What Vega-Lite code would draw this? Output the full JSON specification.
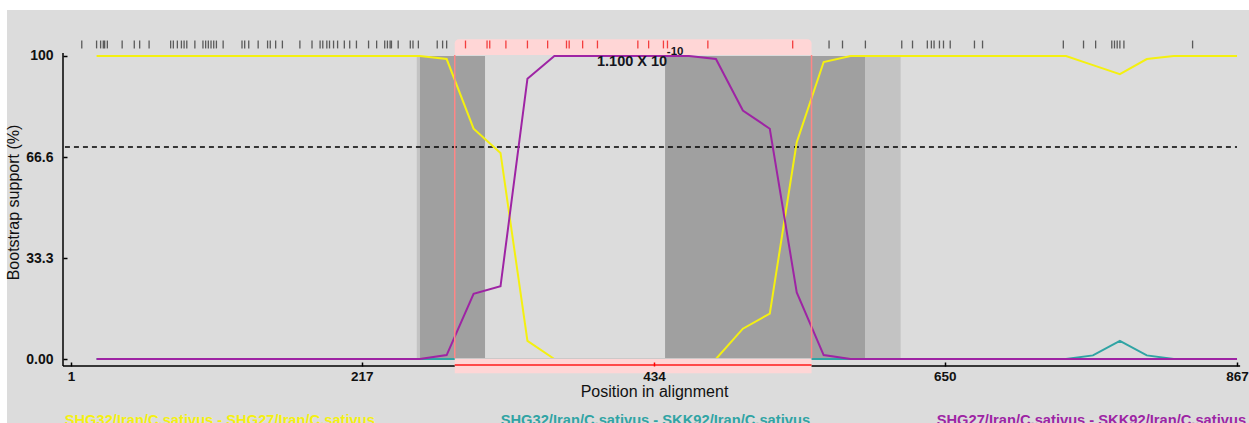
{
  "$schema": "https://vega.github.io/schema/vega-lite/v6.json",
  "width": 1242,
  "height": 413,
  "autosize": {"type": "none"},
  "padding": {"left": 7, "top": 10, "right": 0, "bottom": 0},
  "background": "#ffffff",
  "config": {"view": {"fill": "#dcdcdc", "stroke": null}, "font": "Liberation Sans"},
  "datasets": {
    "bootscan": [
      {"pos": 20, "y": 100, "t": 0, "p": 0},
      {"pos": 40, "y": 100, "t": 0, "p": 0},
      {"pos": 60, "y": 100, "t": 0, "p": 0},
      {"pos": 80, "y": 100, "t": 0, "p": 0},
      {"pos": 100, "y": 100, "t": 0, "p": 0},
      {"pos": 120, "y": 100, "t": 0, "p": 0},
      {"pos": 140, "y": 100, "t": 0, "p": 0},
      {"pos": 160, "y": 100, "t": 0, "p": 0},
      {"pos": 180, "y": 100, "t": 0, "p": 0},
      {"pos": 200, "y": 100, "t": 0, "p": 0},
      {"pos": 220, "y": 100, "t": 0, "p": 0},
      {"pos": 240, "y": 100, "t": 0, "p": 0},
      {"pos": 260, "y": 100, "t": 0, "p": 0},
      {"pos": 280, "y": 99, "t": 0, "p": 1.3},
      {"pos": 300, "y": 76, "t": 0, "p": 21.5},
      {"pos": 320, "y": 68, "t": 0, "p": 24},
      {"pos": 340, "y": 6, "t": 0, "p": 92.5},
      {"pos": 360, "y": 0, "t": 0, "p": 100},
      {"pos": 380, "y": 0, "t": 0, "p": 100},
      {"pos": 400, "y": 0, "t": 0, "p": 100},
      {"pos": 420, "y": 0, "t": 0, "p": 100},
      {"pos": 440, "y": 0, "t": 0, "p": 100},
      {"pos": 460, "y": 0, "t": 0, "p": 100},
      {"pos": 480, "y": 0, "t": 0, "p": 99},
      {"pos": 500, "y": 10, "t": 0, "p": 82},
      {"pos": 520, "y": 15, "t": 0, "p": 76},
      {"pos": 540, "y": 71.5, "t": 0, "p": 22},
      {"pos": 560, "y": 98, "t": 0, "p": 1.3},
      {"pos": 580, "y": 100, "t": 0, "p": 0},
      {"pos": 600, "y": 100, "t": 0, "p": 0},
      {"pos": 620, "y": 100, "t": 0, "p": 0},
      {"pos": 640, "y": 100, "t": 0, "p": 0},
      {"pos": 660, "y": 100, "t": 0, "p": 0},
      {"pos": 680, "y": 100, "t": 0, "p": 0},
      {"pos": 700, "y": 100, "t": 0, "p": 0},
      {"pos": 720, "y": 100, "t": 0, "p": 0},
      {"pos": 740, "y": 100, "t": 0, "p": 0},
      {"pos": 760, "y": 97, "t": 1.2, "p": 0},
      {"pos": 780, "y": 94, "t": 6, "p": 0},
      {"pos": 800, "y": 99, "t": 1.2, "p": 0},
      {"pos": 820, "y": 100, "t": 0, "p": 0},
      {"pos": 840, "y": 100, "t": 0, "p": 0},
      {"pos": 860, "y": 100, "t": 0, "p": 0},
      {"pos": 867, "y": 100, "t": 0, "p": 0}
    ],
    "shading": [
      {"start": 257.8, "end": 260.2, "kind": "light"},
      {"start": 260.2, "end": 308.5, "kind": "dark"},
      {"start": 442.2, "end": 590.7, "kind": "dark"},
      {"start": 590.7, "end": 617.2, "kind": "light"}
    ],
    "region": [
      {"start": 286, "end": 551, "pvalue": "1.100 X 10", "exponent": "-10"}
    ],
    "sites": [
      {"pos": 9}, {"pos": 20}, {"pos": 23}, {"pos": 25}, {"pos": 26}, {"pos": 28}, {"pos": 39}, {"pos": 48}, {"pos": 52}, {"pos": 59},
      {"pos": 75}, {"pos": 77}, {"pos": 80}, {"pos": 83}, {"pos": 85}, {"pos": 87}, {"pos": 93}, {"pos": 99}, {"pos": 101}, {"pos": 103},
      {"pos": 105}, {"pos": 107}, {"pos": 109}, {"pos": 114}, {"pos": 128}, {"pos": 130}, {"pos": 133}, {"pos": 140}, {"pos": 147}, {"pos": 149},
      {"pos": 153}, {"pos": 158}, {"pos": 171}, {"pos": 180}, {"pos": 186}, {"pos": 188}, {"pos": 191}, {"pos": 193}, {"pos": 196}, {"pos": 199},
      {"pos": 204}, {"pos": 208}, {"pos": 213}, {"pos": 222}, {"pos": 228}, {"pos": 234}, {"pos": 236}, {"pos": 238}, {"pos": 239}, {"pos": 244},
      {"pos": 253}, {"pos": 255}, {"pos": 259}, {"pos": 273}, {"pos": 277}, {"pos": 280}, {"pos": 294}, {"pos": 310}, {"pos": 312}, {"pos": 324},
      {"pos": 340}, {"pos": 355}, {"pos": 369}, {"pos": 371}, {"pos": 381}, {"pos": 392}, {"pos": 422}, {"pos": 430}, {"pos": 441}, {"pos": 444},
      {"pos": 474}, {"pos": 537}, {"pos": 564}, {"pos": 574}, {"pos": 591}, {"pos": 618}, {"pos": 626}, {"pos": 637}, {"pos": 640}, {"pos": 642},
      {"pos": 646}, {"pos": 649}, {"pos": 654}, {"pos": 672}, {"pos": 678}, {"pos": 738}, {"pos": 753}, {"pos": 762}, {"pos": 774}, {"pos": 776},
      {"pos": 778}, {"pos": 780}, {"pos": 783}, {"pos": 834}
    ]
  },
  "layer": [
    {
      "data": {"name": "shading"},
      "mark": {"type": "rect"},
      "encoding": {
        "x": {"field": "start", "type": "quantitative", "scale": {"domain": [-46.53, 875.9], "nice": false, "zero": false},
          "axis": {"values": [1, 217, 434, 650, 867], "format": "d", "offset": -61, "domain": false, "grid": false, "ticks": true, "tickSize": 4, "tickWidth": 1.5,
            "tickColor": {"condition": {"test": "datum.value === 434", "value": "#ff0000"}, "value": "#000000"},
            "labelPadding": 3, "labelFontSize": 13.5, "labelFontWeight": "bold", "labelColor": "#111111", "labelFlush": false, "labelOverlap": false,
            "title": "Position in alignment", "titleFontSize": 16, "titleFontWeight": "normal", "titleColor": "#111111", "titleX": 647, "titleY": 34, "titleBaseline": "alphabetic", "zindex": 1}},
        "x2": {"field": "end"},
        "y": {"datum": 0, "type": "quantitative", "scale": {"domain": [-21.12, 115.18], "nice": false, "zero": false},
          "axis": {"values": [0, 33.3, 66.6, 100], "format": ".1f", "offset": -60, "domain": false, "grid": false, "ticks": true, "tickSize": 4, "tickWidth": 1.5, "tickColor": "#000000",
            "labelPadding": 10, "labelFontSize": 14, "labelFontWeight": "bold", "labelColor": "#111111", "labelOverlap": false, "labelFlush": false,
            "labelExpr": "datum.value === 0 ? '0.00' : (datum.value === 100 ? '100' : datum.label)",
            "title": "Bootstrap support (%)", "titleFontSize": 16, "titleFontWeight": "normal", "titleColor": "#111111", "titleX": -49, "titleY": 192, "titleAngle": 270, "titleAlign": "center", "titleBaseline": "alphabetic", "zindex": 1}},
        "y2": {"datum": 100},
        "fill": {"field": "kind", "type": "nominal", "scale": {"domain": ["light", "dark"], "range": ["#c3c3c3", "#a0a0a0"]}, "legend": null}
      }
    },
    {
      "data": {"name": "region"},
      "mark": {"type": "rule", "color": "#000000", "strokeWidth": 1.5, "strokeDash": [5, 4]},
      "encoding": {
        "x": {"datum": -3.5, "type": "quantitative", "scale": {"domain": [-46.53, 875.9], "nice": false, "zero": false}},
        "x2": {"datum": 867},
        "y": {"datum": 70, "type": "quantitative", "scale": {"domain": [-21.12, 115.18], "nice": false, "zero": false}}
      }
    },
    {
      "data": {"name": "bootscan"},
      "mark": {"type": "line", "strokeWidth": 2},
      "encoding": {
        "x": {"field": "pos", "type": "quantitative", "scale": {"domain": [-46.53, 875.9], "nice": false, "zero": false}},
        "y": {"field": "y", "type": "quantitative", "scale": {"domain": [-21.12, 115.18], "nice": false, "zero": false}},
        "color": {"datum": "SHG32/Iran/C.sativus - SHG27/Iran/C.sativus", "type": "nominal",
          "scale": {"domain": ["SHG32/Iran/C.sativus - SHG27/Iran/C.sativus", "SHG32/Iran/C.sativus - SKK92/Iran/C.sativus", "SHG27/Iran/C.sativus - SKK92/Iran/C.sativus"], "range": ["#f4f010", "#30a4a4", "#9e24a4"]},
          "legend": {"orient": "none", "legendX": 43, "legendY": 395.5, "direction": "horizontal", "title": null, "symbolSize": 0, "symbolOpacity": 0, "symbolStrokeWidth": 0, "labelOffset": 0, "columnPadding": 111, "labelFontSize": 14.7, "labelFontWeight": "bold", "labelLimit": 0, "labelBaseline": "top",
            "encode": {"labels": {"update": {"fill": {"scale": "color", "field": "value"}}}}}}
      }
    },
    {
      "data": {"name": "bootscan"},
      "mark": {"type": "line", "strokeWidth": 2},
      "encoding": {
        "x": {"field": "pos", "type": "quantitative", "scale": {"domain": [-46.53, 875.9], "nice": false, "zero": false}},
        "y": {"field": "t", "type": "quantitative", "scale": {"domain": [-21.12, 115.18], "nice": false, "zero": false}},
        "color": {"datum": "SHG32/Iran/C.sativus - SKK92/Iran/C.sativus", "type": "nominal"}
      }
    },
    {
      "data": {"name": "bootscan"},
      "mark": {"type": "line", "strokeWidth": 2},
      "encoding": {
        "x": {"field": "pos", "type": "quantitative", "scale": {"domain": [-46.53, 875.9], "nice": false, "zero": false}},
        "y": {"field": "p", "type": "quantitative", "scale": {"domain": [-21.12, 115.18], "nice": false, "zero": false}},
        "color": {"datum": "SHG27/Iran/C.sativus - SKK92/Iran/C.sativus", "type": "nominal"}
      }
    },
    {
      "data": {"name": "region"},
      "mark": {"type": "rule", "color": "#000000", "strokeWidth": 1.5},
      "encoding": {
        "x": {"datum": -4.94, "type": "quantitative", "scale": {"domain": [-46.53, 875.9], "nice": false, "zero": false}},
        "x2": {"datum": 869.3},
        "y": {"datum": -2.31, "type": "quantitative", "scale": {"domain": [-21.12, 115.18], "nice": false, "zero": false}}
      }
    },
    {
      "data": {"name": "region"},
      "mark": {"type": "rule", "color": "#000000", "strokeWidth": 1.5},
      "encoding": {
        "x": {"datum": -4.94, "type": "quantitative", "scale": {"domain": [-46.53, 875.9], "nice": false, "zero": false}},
        "y": {"datum": -2.31, "type": "quantitative", "scale": {"domain": [-21.12, 115.18], "nice": false, "zero": false}},
        "y2": {"datum": 101}
      }
    },
    {
      "data": {"name": "region"},
      "mark": {"type": "rect", "fill": "#ffd6d6", "cornerRadiusTopLeft": 4, "cornerRadiusTopRight": 4},
      "encoding": {
        "x": {"field": "start", "type": "quantitative", "scale": {"domain": [-46.53, 875.9], "nice": false, "zero": false}},
        "x2": {"field": "end"},
        "y": {"datum": 100.3, "type": "quantitative", "scale": {"domain": [-21.12, 115.18], "nice": false, "zero": false}},
        "y2": {"datum": 105.5}
      }
    },
    {
      "data": {"name": "region"},
      "mark": {"type": "rect", "fill": "#ffd6d6"},
      "encoding": {
        "x": {"field": "start", "type": "quantitative", "scale": {"domain": [-46.53, 875.9], "nice": false, "zero": false}},
        "x2": {"field": "end"},
        "y": {"datum": -4.72, "type": "quantitative", "scale": {"domain": [-21.12, 115.18], "nice": false, "zero": false}},
        "y2": {"datum": 0.23}
      }
    },
    {
      "data": {"name": "region"},
      "mark": {"type": "rule", "color": "#ff8686", "strokeWidth": 1.5},
      "encoding": {
        "x": {"field": "start", "type": "quantitative", "scale": {"domain": [-46.53, 875.9], "nice": false, "zero": false}},
        "y": {"datum": 0.23, "type": "quantitative", "scale": {"domain": [-21.12, 115.18], "nice": false, "zero": false}},
        "y2": {"datum": 100.3}
      }
    },
    {
      "data": {"name": "region"},
      "mark": {"type": "rule", "color": "#ff8686", "strokeWidth": 1.5},
      "encoding": {
        "x": {"field": "end", "type": "quantitative", "scale": {"domain": [-46.53, 875.9], "nice": false, "zero": false}},
        "y": {"datum": 0.23, "type": "quantitative", "scale": {"domain": [-21.12, 115.18], "nice": false, "zero": false}},
        "y2": {"datum": 100.3}
      }
    },
    {
      "data": {"name": "region"},
      "mark": {"type": "rule", "color": "#ff1a1a", "strokeWidth": 1.5},
      "encoding": {
        "x": {"field": "start", "type": "quantitative", "scale": {"domain": [-46.53, 875.9], "nice": false, "zero": false}},
        "x2": {"field": "end"},
        "y": {"datum": -2.0, "type": "quantitative", "scale": {"domain": [-21.12, 115.18], "nice": false, "zero": false}}
      }
    },
    {
      "data": {"name": "sites"},
      "mark": {"type": "rule", "strokeWidth": 1.3, "opacity": 0.8},
      "encoding": {
        "x": {"field": "pos", "type": "quantitative", "scale": {"domain": [-46.53, 875.9], "nice": false, "zero": false}},
        "y": {"datum": 102.5, "type": "quantitative", "scale": {"domain": [-21.12, 115.18], "nice": false, "zero": false}},
        "y2": {"datum": 105.1},
        "stroke": {"condition": {"test": "datum.pos > 286 && datum.pos < 551", "value": "#f01818"}, "value": "#3a3a3a"}
      }
    },
    {
      "data": {"name": "region"},
      "mark": {"type": "text", "fontSize": 14.5, "fontWeight": "bold", "color": "#151520", "align": "center", "baseline": "middle"},
      "encoding": {
        "x": {"datum": 417.7, "type": "quantitative", "scale": {"domain": [-46.53, 875.9], "nice": false, "zero": false}},
        "y": {"datum": 98.0, "type": "quantitative", "scale": {"domain": [-21.12, 115.18], "nice": false, "zero": false}},
        "text": {"field": "pvalue"}
      }
    },
    {
      "data": {"name": "region"},
      "mark": {"type": "text", "fontSize": 11.5, "fontWeight": "bold", "color": "#151520", "align": "left", "baseline": "middle"},
      "encoding": {
        "x": {"datum": 443.5, "type": "quantitative", "scale": {"domain": [-46.53, 875.9], "nice": false, "zero": false}},
        "y": {"datum": 101.2, "type": "quantitative", "scale": {"domain": [-21.12, 115.18], "nice": false, "zero": false}},
        "text": {"field": "exponent"}
      }
    }
  ]
}
